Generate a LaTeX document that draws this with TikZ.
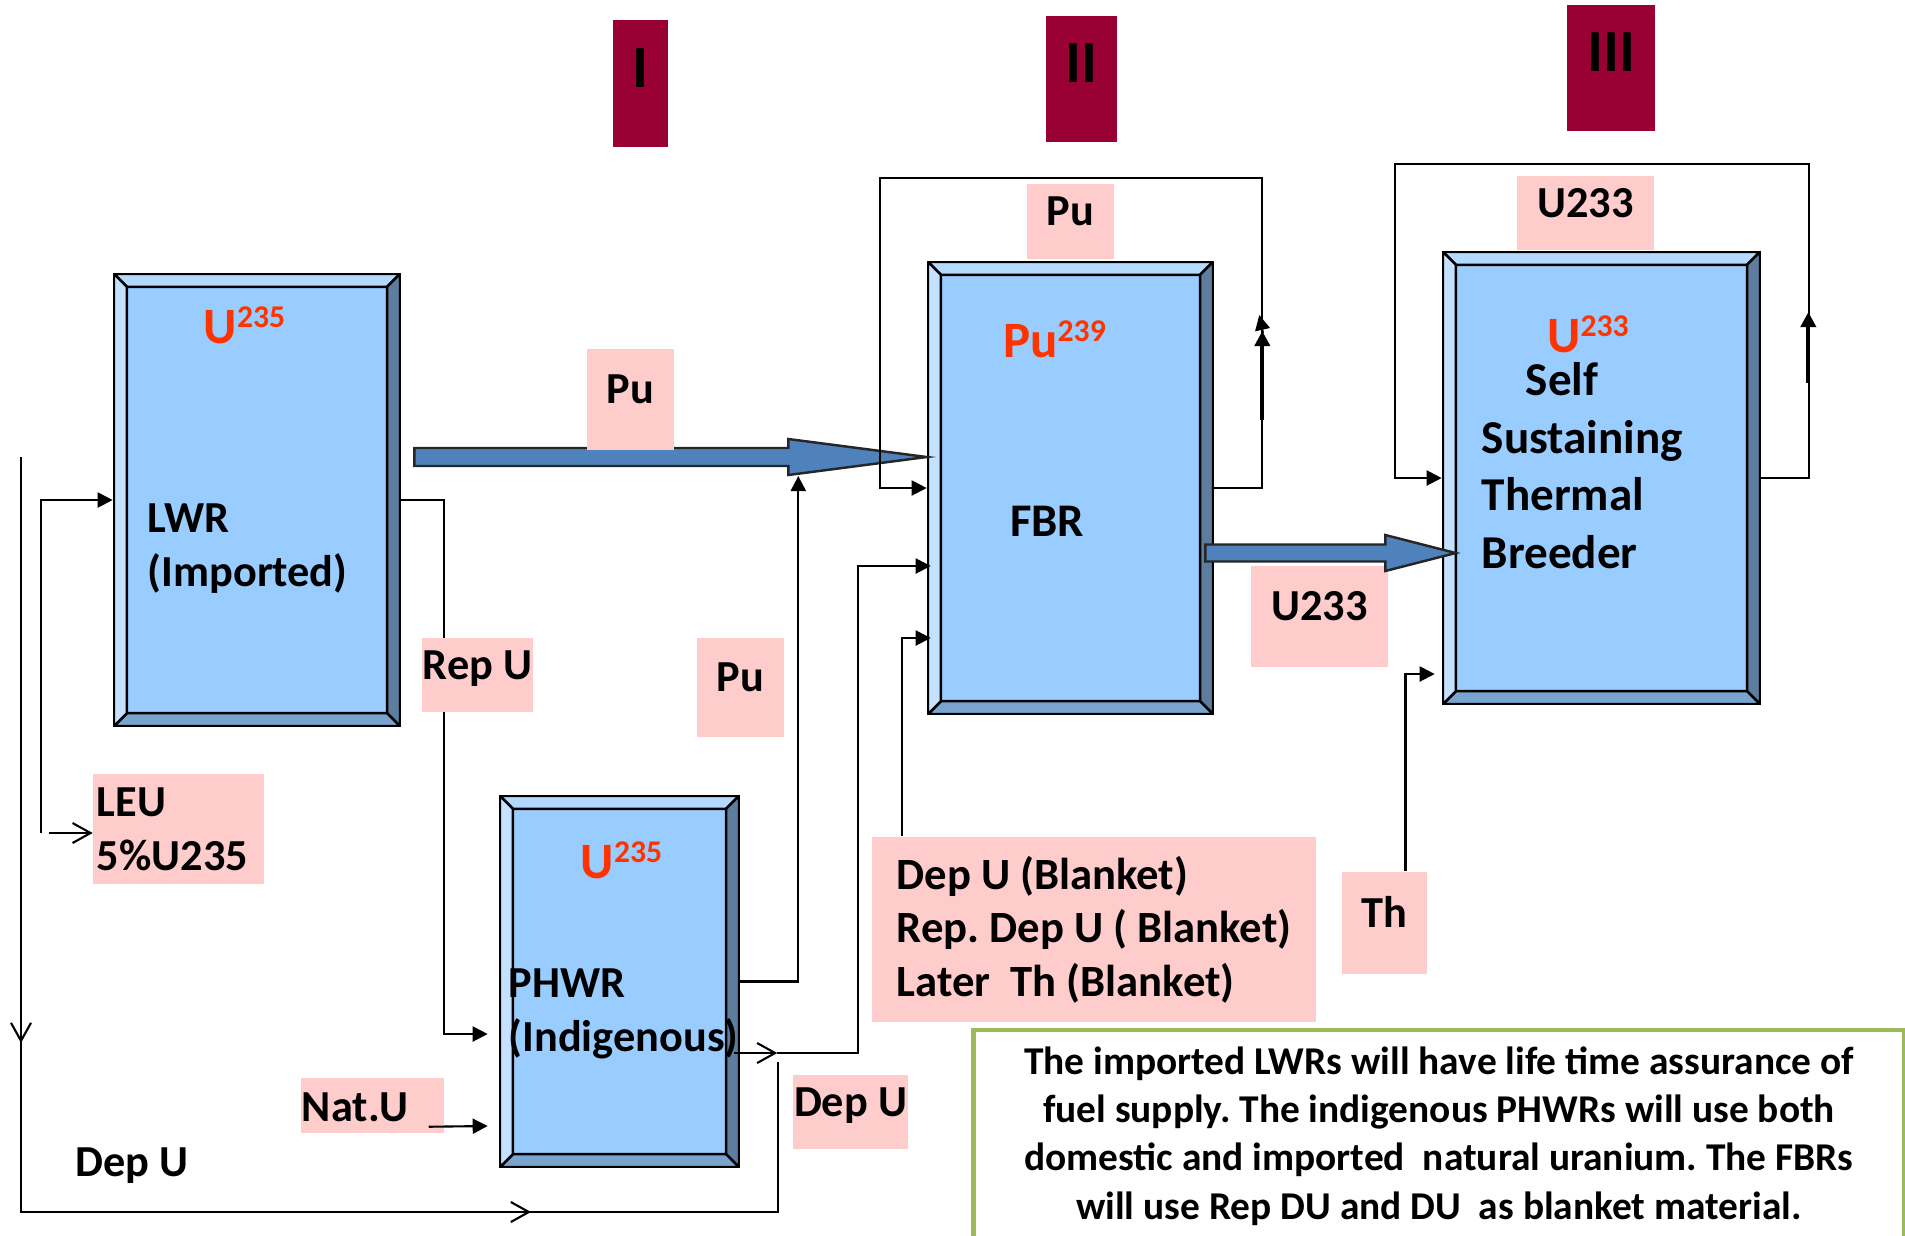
\documentclass[tikz,border=0pt]{standalone}
\usepackage{fontspec}
\setmainfont{Carlito}
\frenchspacing
\usetikzlibrary{arrows.meta,calc}
\definecolor{stagered}{RGB}{153,0,51}
\definecolor{tagpink}{RGB}{255,204,204}
\definecolor{isored}{RGB}{255,51,0}
\definecolor{coreface}{RGB}{153,204,255}
\definecolor{coretop}{RGB}{180,217,255}
\definecolor{coreleft}{RGB}{196,225,255}
\definecolor{coreright}{RGB}{92,125,157}
\definecolor{corebottom}{RGB}{121,164,206}
\definecolor{flowblue}{RGB}{79,129,189}
\definecolor{noteframe}{RGB}{155,187,89}
\newcommand{\nuc}[2]{#1\raisebox{4.5pt}{\fontsize{9}{9}\selectfont #2}}

\begin{document}
\begin{tikzpicture}[x=0.01cm,y=-0.01cm,font=\bfseries,
  core/.style 2 args={draw=black,line width=0.7pt,fill=coreface,inner sep=0pt,
    minimum width=#1,minimum height=#2,
    path picture={
      \path (path picture bounding box.north west) coordinate (bNW)
            (path picture bounding box.north east) coordinate (bNE)
            (path picture bounding box.south east) coordinate (bSE)
            (path picture bounding box.south west) coordinate (bSW);
      \filldraw[line width=0.7pt,fill=coretop] (bNW) -- (bNE) -- ([shift={(-13,13)}]bNE) -- ([shift={(13,13)}]bNW) -- cycle;
      \filldraw[line width=0.7pt,fill=coreright] (bNE) -- (bSE) -- ([shift={(-13,-13)}]bSE) -- ([shift={(-13,13)}]bNE) -- cycle;
      \filldraw[line width=0.7pt,fill=corebottom] (bSE) -- (bSW) -- ([shift={(13,-13)}]bSW) -- ([shift={(-13,-13)}]bSE) -- cycle;
      \filldraw[line width=0.7pt,fill=coreleft] (bSW) -- (bNW) -- ([shift={(13,13)}]bNW) -- ([shift={(13,-13)}]bSW) -- cycle;
    }},
  stage/.style={fill=stagered,inner sep=0pt,minimum width=#1,minimum height=1.26cm,
    font=\fontsize{17}{17}\selectfont\bfseries,text height=11pt,text depth=9pt},
  tag/.style 2 args={fill=tagpink,inner sep=0pt,minimum width=#1,minimum height=#2,
    font=\fontsize{12.6}{15.4}\selectfont\bfseries,text height=9pt,text depth=6.5pt},
  tagblock/.style={fill=tagpink,align=left,font=\fontsize{12.6}{15.4}\selectfont\bfseries},
  iso/.style={text=isored,anchor=base,inner sep=0pt,font=\fontsize{14.5}{14.5}\selectfont\bfseries},
  corelbl/.style={align=left,inner sep=0pt,font=\fontsize{12.6}{15.4}\selectfont\bfseries},
  note/.style={draw=noteframe,line width=1.3pt,align=center,inner sep=0pt,
    minimum width=9.3cm,minimum height=2.12cm,font=\fontsize{11.2}{13.7}\selectfont\bfseries},
  flow/.style={line width=0.6pt,-{Triangle[length=0.15cm,width=0.15cm]}},
  openflow/.style={line width=0.6pt,-{Straight Barb[length=0.18cm,width=0.2cm]}},
  wire/.style={line width=0.6pt},
  bigflow/.style={fill=flowblue,draw=black!85,line width=0.7pt}]

  \useasboundingbox (0,0) rectangle (1905,1235);

  % reactors
  \node[core={2.86cm}{4.52cm}] (lwr) at (257,500) {};
  \node[core={2.39cm}{3.71cm}] (phwr) at (619.5,981.5) {};
  \node[core={2.85cm}{4.52cm}] (fbr) at (1070.5,488) {};
  \node[core={3.17cm}{4.52cm}] (tsb) at (1601.5,478) {};

  % stages
  \node[stage=0.55cm] (stI) at (640.5,83.5) {I};
  \node[stage=0.71cm] (stII) at (1081.5,79) {II};
  \node[stage=0.88cm] (stIII) at (1611,68) {III};

  % fuel tags
  \node[tagblock,text width=1.63cm,inner xsep=1pt,inner ysep=0pt,minimum height=1.1cm] (leu) at (178.5,829) {LEU\\5\%U235};
  \node[tag={1.43cm}{0.55cm},text depth=0pt,align=left,text width=1.41cm] (natU) at (372.5,1105.5) {Nat.U};
  \node[tagblock,inner sep=0pt,minimum width=4.44cm,minimum height=1.85cm,
        font=\fontsize{12.7}{15.2}\selectfont\bfseries] (blanket) at (1094,929.5)
        {Dep U (Blanket)\\Rep. Dep U ( Blanket)\\Later~ Th (Blanket)};
  \node[tag={0.85cm}{1.02cm}] (th) at (1384.5,923) {Th};
  \node[tag={1.15cm}{0.74cm}] (depUlow) at (850.5,1112) {Dep U};
  \node[tag={0.87cm}{0.99cm}] (puLow) at (740.5,687.5) {Pu};
  \node[tag={0.87cm}{0.75cm}] (puTop) at (1070.5,221.5) {Pu};
  \node[tag={1.37cm}{1.01cm}] (uFbr) at (1319.5,616.5) {U233};
  \node[tag={1.37cm}{0.74cm}] (uTop) at (1585.5,213) {U233};

  % texts
  \node[iso] (lwrIso) at (244.5,343) {\nuc{U}{235}};
  \node[iso] (phwrIso) at (621.5,878) {\nuc{U}{235}};
  \node[iso] (fbrIso) at (1054.5,357) {\nuc{Pu}{239}};
  \node[iso] (tsbIso) at (1588,352) {\nuc{U}{233}};
  \node[corelbl,anchor=west] (lwrLbl) at (147,549) {LWR\\(Imported)};
  \node[corelbl,anchor=west] (phwrLbl) at (508,1014) {PHWR\\(Indigenous)};
  \node[corelbl,font=\fontsize{13.3}{16}\selectfont\bfseries] (fbrLbl) at (1047,521) {FBR};
  \node[corelbl,anchor=west,font=\fontsize{13.4}{16.4}\selectfont\bfseries] (tsbLbl) at (1481,465.5)
       {\hspace*{0.44cm}Self\\Sustaining\\Thermal\\Breeder};
  \node[corelbl,anchor=base] (depUtxt) at (132,1176) {Dep U};
  \node[note] (note) at (1439,1136) {The imported LWRs will have life time assurance of\\
    fuel supply. The indigenous PHWRs will use both\\
    domestic and imported~ natural uranium. The FBRs\\
    will use Rep DU and DU~ as blanket material.};

  % block arrows
  \coordinate (puTail) at ($(lwr.east)+(13,-43)$);
  \coordinate (puHead) at ($(puTail)+(374,0)$);
  \draw[bigflow] ($(puTail)+(0,-9)$) -| ($(puHead)+(0,-18)$) -- (fbr.west |- puTail)
    -- ($(puHead)+(0,18)$) |- ($(puTail)+(0,9)$) -- cycle;
  \coordinate (uTail) at ($(fbr.east)+(-9,65)$);
  \coordinate (uHead) at ($(uTail)+(180,0)$);
  \draw[bigflow] ($(uTail)+(0,-8.5)$) -| ($(uHead)+(0,-18)$) -- ($(tsb.west |- uTail)+(14,0)$)
    -- ($(uHead)+(0,18)$) |- ($(uTail)+(0,8.5)$) -- cycle;

  % thin flows
  \draw[openflow] ($(leu.west)+(-44,4)$) -- ($(leu.west)+(0,4)$);
  \draw[flow] ($(leu.west)+(-52,4)$) |- (lwr.west);
  \draw[flow] (lwr.east) -- ++(43,0) |- ($(phwr.west)+(-11,52.5)$);
  \draw[flow] ($(natU.south east)+(-16,-7)$) -- ($(phwr.west)+(-11,144.5)$);
  \draw[flow] (phwr.east) -| ($(puHead)+(10,19)$);
  \coordinate (duJoin) at ($(phwr.east)+(37,71.5)$);
  \draw[openflow] ($(phwr.east)+(-6,71.5)$) -- (duJoin);
  \draw[flow] (duJoin) -- ++(81,0) |- ($(fbr.west)+(4,78)$);
  \draw[flow] ($(blanket.north west)+(31,0)$) |- ($(fbr.west)+(4,150)$);

  \coordinate (duStart) at (21,457);
  \coordinate (duEnd) at (778,1062);
  \draw[wire] (duStart) -- ++(0,755) -| (duEnd);
  \draw[openflow] (duStart) -- ++(0,586);
  \draw[openflow] ($(duStart)+(0,755)$) -- ++(510,0);

  \draw[flow] (fbr.east) -- ++(48,0) -- ++(0,-310) -| ($(fbr.west)+(-47,0)$) -- (fbr.west);
  \draw[flow,line width=1.1pt] ($(fbr.east)+(48,-68)$) -- ++(0,-89);
  \draw[-{Triangle[length=0.15cm,width=0.15cm]}] ($(fbr.east)+(49,-155)$) -- ++(-4,-18);
  \draw[flow] (tsb.east) -- ++(48,0) -- ++(0,-314) -| ($(tsb.west)+(-47,0)$) -- (tsb.west);
  \draw[flow,line width=1.1pt] ($(tsb.east)+(47,-95)$) -- ++(0,-71);
  \draw[flow] ($(th.north)+(21,0)$) |- ($(tsb.west)+(-7,196)$);

  % tags over flows
  \node[tag={1.11cm}{0.74cm}] (repU) at (477.5,675) {Rep U};
  \node[tag={0.87cm}{1.01cm}] (puMid) at (630.5,399.5) {Pu};
\end{tikzpicture}
\end{document}
